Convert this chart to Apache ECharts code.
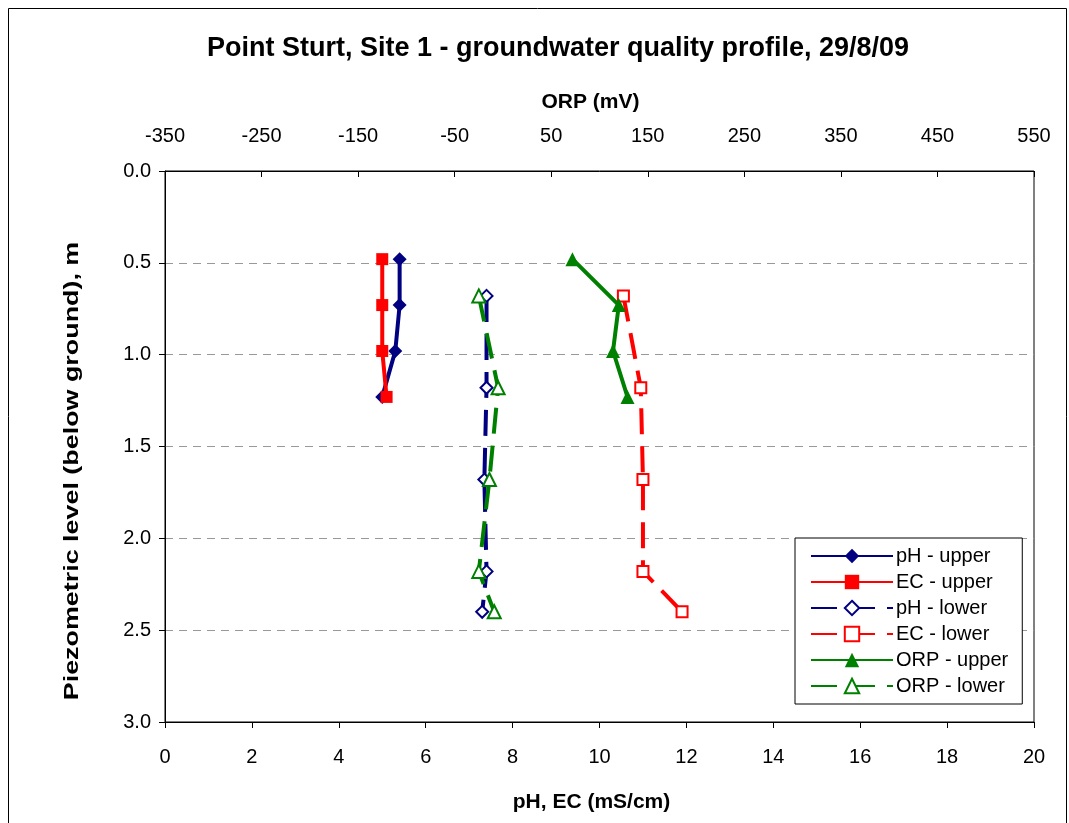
<!DOCTYPE html>
<html>
<head>
<meta charset="utf-8">
<script src="https://cdn.jsdelivr.net/npm/echarts@6/dist/echarts.min.js"></script>
<style>
html,body{margin:0;padding:0;background:#fff;}
#c{width:1069px;height:823px;}
</style>
</head>
<body>
<div id="c"></div>
<script>
// ---- data ----
const depthUpper = [0.48, 0.73, 0.98, 1.23];
const phUpper = [5.4, 5.4, 5.3, 5.0];
const ecUpper = [5.0, 5.0, 5.0, 5.1];
const orpUpper = [72, 120, 114, 129];

const depthLower = [0.68, 1.18, 1.68, 2.18, 2.40];
const phLower = [7.4, 7.4, 7.35, 7.4, 7.3];
const ecLower = [10.55, 10.95, 11.0, 11.0, 11.9];
const orpLower = [-25, -5, -14, -25, -9];

const orpTicks = [-350, -250, -150, -50, 50, 150, 250, 350, 450, 550];
const seriesNames = ['pH - upper', 'EC - upper', 'pH - lower', 'EC - lower', 'ORP - upper', 'ORP - lower'];
const yTitle = 'Piezometric level (below ground), m';

const pair = (xs, ys) => xs.map((x, i) => [x, ys[i]]);

const FONT = 'Liberation Sans, Arial, sans-serif';
const NAVY = '#000080', RED = '#ff0000', GREEN = '#008000';
const DASH = [26, 12];

function mk(name, xs, ys, color, symbol, size, dashed, xIdx) {
  return {
    name: name,
    type: 'line',
    xAxisIndex: xIdx,
    yAxisIndex: 0,
    data: pair(xs, ys),
    symbol: symbol,
    symbolSize: size,
    showAllSymbol: true,
    lineStyle: { color: color, width: 4, type: dashed ? DASH : 'solid' },
    itemStyle: { color: color, borderColor: color, borderWidth: symbol.startsWith('empty') ? 1.5 : 0 },
    emphasis: { disabled: true },
    animation: false
  };
}

const chart = echarts.init(document.getElementById('c'), null, { renderer: 'canvas' });
chart.setOption({
  backgroundColor: '#fff',
  animation: false,
  textStyle: { fontFamily: FONT, color: '#000' },
  title: {
    text: 'Point Sturt, Site 1 - groundwater quality profile, 29/8/09',
    left: 553, top: 30, textAlign: 'center',
    textStyle: { fontFamily: FONT, fontSize: 27, fontWeight: 'bold', color: '#000' }
  },
  graphic: [{
    type: 'rect', silent: true,
    shape: { x: 8.5, y: 8.5, width: 1058, height: 840 },
    style: { fill: 'none', stroke: '#000', lineWidth: 1 }
  }, {
    type: 'text', silent: true,
    x: 72, y: 471, rotation: Math.PI / 2, scaleX: 1.28, scaleY: 1,
    style: {
      text: yTitle, fill: '#000', font: 'bold 21px ' + FONT,
      align: 'center', verticalAlign: 'middle'
    }
  }],
  grid: { left: 165, right: 35, top: 171, bottom: 101, show: true, borderColor: '#000', borderWidth: 1, backgroundColor: 'transparent' },
  legend: {
    data: seriesNames,
    orient: 'vertical',
    left: 795, top: 538,
    padding: [8, 14, 8, 15],
    itemWidth: 82, itemHeight: 18, itemGap: 6,
    backgroundColor: '#fff', borderColor: '#000', borderWidth: 1,
    textStyle: { fontFamily: FONT, fontSize: 20, lineHeight: 20, color: '#000', padding: [0, 0, 0, -2] }
  },
  xAxis: [{
    type: 'value', position: 'bottom', min: 0, max: 20, interval: 2,
    name: 'pH, EC (mS/cm)', nameLocation: 'middle', nameGap: 70,
    nameTextStyle: { fontFamily: FONT, fontSize: 21, fontWeight: 'bold', color: '#000', padding: [0, 16, 0, 0] },
    axisLine: { show: true, onZero: false, lineStyle: { color: '#000', width: 1 } },
    axisTick: { show: true, inside: false, length: 6, lineStyle: { color: '#000', width: 1 } },
    axisLabel: { fontFamily: FONT, fontSize: 20, color: '#000', margin: 25 },
    splitLine: { show: false }
  }, {
    type: 'value', position: 'top', min: -350, max: 550,
    name: 'ORP (mV)', nameLocation: 'middle', nameGap: 58,
    nameTextStyle: { fontFamily: FONT, fontSize: 21, fontWeight: 'bold', color: '#000', padding: [0, 18, 0, 0] },
    axisLine: { show: true, onZero: false, lineStyle: { color: '#000', width: 1 } },
    axisTick: { show: true, inside: true, length: 6, customValues: orpTicks, lineStyle: { color: '#000', width: 1 } },
    axisLabel: { fontFamily: FONT, fontSize: 20, color: '#000', margin: 25, customValues: orpTicks },
    splitLine: { show: false }
  }],
  yAxis: [{
    type: 'value', inverse: true, min: 0, max: 3, interval: 0.5,
    axisLine: { show: true, lineStyle: { color: '#000', width: 1 } },
    axisTick: { show: true, inside: false, length: 6, lineStyle: { color: '#000' } },
    axisLabel: { fontFamily: FONT, fontSize: 20, color: '#000', margin: 14, formatter: v => v.toFixed(1) },
    splitLine: { show: true, lineStyle: { color: '#999', type: [8, 6], width: 1 } }
  }],
  series: [
    mk(seriesNames[0], phUpper, depthUpper, NAVY, 'diamond', 14, false, 0),
    mk(seriesNames[1], ecUpper, depthUpper, RED, 'rect', 12, false, 0),
    mk(seriesNames[2], phLower, depthLower, NAVY, 'emptyDiamond', 12, true, 0),
    mk(seriesNames[3], ecLower, depthLower, RED, 'emptyRect', 11, true, 0),
    mk(seriesNames[4], orpUpper, depthUpper, GREEN, 'triangle', 14, false, 1),
    mk(seriesNames[5], orpLower, depthLower, GREEN, 'emptyTriangle', 13, true, 1)
  ]
});
</script>
</body>
</html>
